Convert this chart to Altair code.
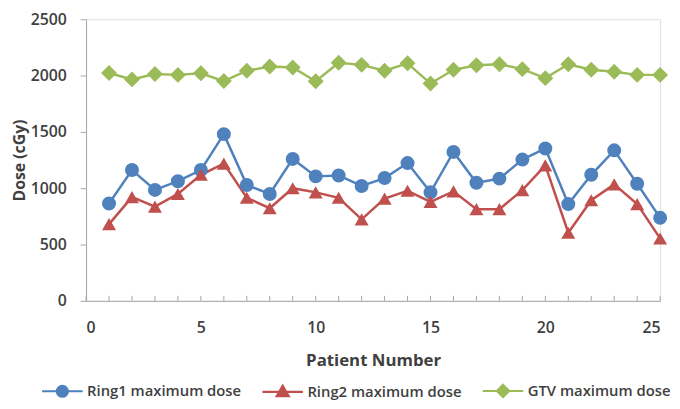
import altair as alt
import pandas as pd

patients = list(range(1, 26))
ring1 = [864, 1161, 985, 1062, 1161, 1480, 1028, 949, 1260, 1105, 1113, 1020, 1090,
         1223, 963, 1322, 1048, 1085, 1254, 1353, 859, 1119, 1336, 1040, 737]
ring2 = [681, 921, 836, 949, 1119, 1218, 915, 822, 1000, 963, 915, 723, 907,
         977, 879, 972, 814, 814, 983, 1203, 605, 893, 1034, 859, 554]
gtv = [2023, 1966, 2014, 2006, 2020, 1951, 2043, 2080, 2071, 1949, 2114, 2095, 2043,
       2109, 1929, 2051, 2091, 2100, 2057, 1977, 2100, 2051, 2034, 2006, 2006]
series_names = ["Ring1 maximum dose", "Ring2 maximum dose", "GTV maximum dose"]
colors = ["#4F81BD", "#C0504D", "#9BBB59"]
marker_shapes = ["circle", "triangle-up", "diamond"]
marker_sizes = [200, 200, 260]
x_ticks = list(range(0, 26))
x_label_values = [0, 5, 10, 15, 20, 25]
y_label_values = [0, 500, 1000, 1500, 2000, 2500]

legend_paths = [
    "M-1,0H1M-0.27,0A0.27,0.27 0 1,0 0.27,0A0.27,0.27 0 1,0 -0.27,0Z",
    "M-1,0H1M-0.3,0.22L0,-0.3L0.3,0.22Z",
    "M-1,0H1M0,-0.3L0.3,0L0,0.3L-0.3,0Z",
]

rows = []
for name, vals in zip(series_names, [ring1, ring2, gtv]):
    for p, v in zip(patients, vals):
        rows.append({"patient": p, "dose": v, "series": name})
df = pd.DataFrame(rows)
ticks_df = pd.DataFrame({"t": x_ticks})

W, H = 581, 285
FONT = "Open Sans"
TXT = "#404040"
AX = "#A6A6A6"
LX, LY = -46, 354

xscale = alt.Scale(domain=[0, 25], nice=False, zero=False)
yscale = alt.Scale(domain=[0, 2500], nice=False)

xenc = alt.X("patient:Q", scale=xscale, axis=alt.Axis(
    title="Patient Number", values=x_label_values, ticks=False, grid=False,
    domainColor=AX, labelPadding=19, titlePadding=17, labelFontSize=16,
    titleFontSize=17, labelFont=FONT, titleFont=FONT, labelFontWeight=600,
    titleFontWeight="bold", labelColor=TXT, titleColor=TXT))
yenc = alt.Y("dose:Q", scale=yscale, axis=alt.Axis(
    title="Dose (cGy)", values=y_label_values, format="d", grid=False, domainColor=AX,
    tickColor=AX, tickSize=6, labelPadding=14, titlePadding=3, labelFontSize=16,
    titleFontSize=16, labelFont=FONT, titleFont=FONT, labelFontWeight=600,
    titleFontWeight="bold", labelColor=TXT, titleColor=TXT))

layers = []
for name, col in zip(series_names, colors):
    layers.append(alt.Chart(df).transform_filter(alt.datum.series == name)
                  .mark_line(color=col, strokeWidth=2.5)
                  .encode(x=xenc, y=yenc))
for name, col, shp, sz in zip(series_names, colors, marker_shapes, marker_sizes):
    layers.append(alt.Chart(df).transform_filter(alt.datum.series == name)
                  .mark_point(filled=True, color=col, shape=shp, size=sz, opacity=1)
                  .encode(x=xenc, y=yenc))

ticks = alt.Chart(ticks_df).mark_rule(color=AX, strokeWidth=1).encode(
    x=alt.X("t:Q", scale=xscale), y=alt.value(H), y2=alt.value(H - 5))

leg = dict(title=None, orient="none", direction="horizontal", legendX=LX, legendY=LY)
legend_layer = alt.Chart(df).transform_filter("false").mark_point(
    filled=True, opacity=1).encode(
    x=alt.X("patient:Q", scale=xscale),
    y=alt.Y("dose:Q", scale=yscale),
    fill=alt.Fill("series:N", scale=alt.Scale(domain=series_names, range=colors),
                  legend=alt.Legend(labelFont=FONT, labelFontSize=15, labelFontWeight=600,
                                    labelColor=TXT, symbolSize=1681,
                                    symbolStrokeWidth=2.2, labelOffset=3,
                                    columnPadding=16, padding=0, labelLimit=300,
                                    symbolOpacity=1, **leg)),
    stroke=alt.Stroke("series:N", scale=alt.Scale(domain=series_names, range=colors),
                      legend=alt.Legend(**leg)),
    shape=alt.Shape("series:N", scale=alt.Scale(domain=series_names, range=legend_paths),
                    legend=alt.Legend(**leg)),
)

chart = alt.layer(ticks, *layers, legend_layer).properties(
    width=W, height=H,
    autosize=alt.AutoSizeParams(type="none"),
    padding={"left": 79, "top": 9, "right": 12, "bottom": 99},
).configure_view(stroke=None).configure(background="white")

chart.save("out.html", embed_options={"renderer": "svg", "actions": False})
